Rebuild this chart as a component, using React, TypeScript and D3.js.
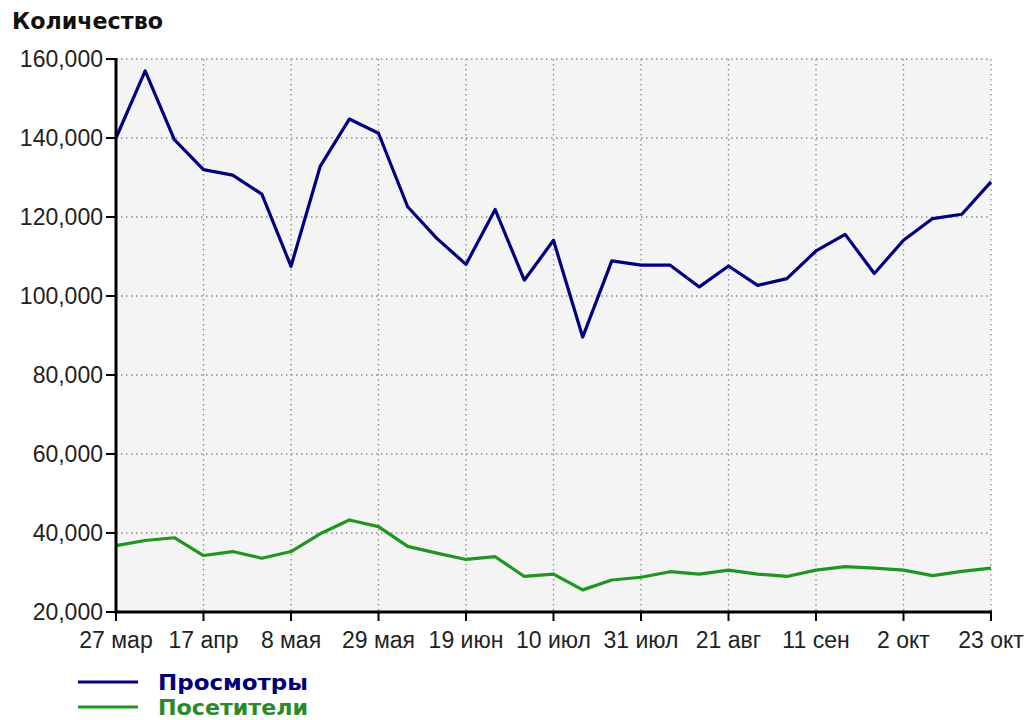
import React from "react";
import * as d3 from "d3";

const xTickLabels = ["27 мар", "17 апр", "8 мая", "29 мая", "19 июн", "10 июл", "31 июл", "21 авг", "11 сен", "2 окт", "23 окт"];
const yTicks = [20000, 40000, 60000, 80000, 100000, 120000, 140000, 160000];

const views = [
  140000, 157000, 139600, 132000, 130600, 125800, 107500, 132800, 144800, 141200,
  122600, 114600, 108000, 121900, 104000, 114100, 89600, 108900, 107800, 107800,
  102300, 107600, 102700, 104400, 111400, 115600, 105700, 114100, 119600, 120700, 128900,
];
const visitors = [
  36800, 38100, 38800, 34300, 35300, 33600, 35300, 39800, 43300, 41600,
  36600, 34900, 33300, 34000, 29000, 29600, 25600, 28100, 28800, 30200,
  29600, 30600, 29600, 29000, 30600, 31500, 31100, 30600, 29200, 30300, 31100,
];

const seriesNames = ["Просмотры", "Посетители"];
const seriesColors = ["#000080", "#1f961f"];

export default function App() {
  const W = 1024, H = 720;
  const left = 116, right = 991, top = 59, bottom = 612;
  const x = d3.scaleLinear().domain([0, views.length - 1]).range([left, right]);
  const y = d3.scaleLinear().domain([20000, 160000]).range([bottom, top]);
  const line = d3.line<number>().x((_, i) => x(i)).y((d) => y(d));
  const fmt = d3.format(",");
  const step = (views.length - 1) / (xTickLabels.length - 1);
  const font = "'Liberation Sans', Arial, sans-serif";
  const boldFont = "'DejaVu Sans', Verdana, sans-serif";

  return (
    <svg width={W} height={H} style={{ position: "absolute", left: 0, top: 0, background: "#fff" }} fontFamily={font}>
      <rect x={left} y={top} width={right - left} height={bottom - top} fill="#f4f4f4" />
      {yTicks.slice(1).map((t) => (
        <line key={"gy" + t} x1={left} x2={right} y1={y(t)} y2={y(t)} stroke="#8a8a8a" strokeWidth={1.3} strokeDasharray="1.5,3.5" />
      ))}
      {xTickLabels.map((l, i) => i > 0 && (
        <line key={"gx" + i} x1={x(i * step)} x2={x(i * step)} y1={top} y2={bottom} stroke="#8a8a8a" strokeWidth={1.3} strokeDasharray="1.5,3.5" />
      ))}
      <path d={line(visitors) || ""} fill="none" stroke={seriesColors[1]} strokeWidth={3.2} strokeLinejoin="round" />
      <path d={line(views) || ""} fill="none" stroke={seriesColors[0]} strokeWidth={3.2} strokeLinejoin="round" />
      {/* axes */}
      <line x1={left} x2={left} y1={top - 1} y2={bottom + 1.5} stroke="#000" strokeWidth={3} />
      <line x1={left - 1.5} x2={right + 1} y1={bottom} y2={bottom} stroke="#000" strokeWidth={3} />
      {yTicks.map((t) => (
        <g key={"yt" + t}>
          <line x1={left - 10} x2={left} y1={y(t)} y2={y(t)} stroke="#000" strokeWidth={2} />
          <text x={103} y={y(t) + 8} textAnchor="end" fontSize={23} fill="#222">{fmt(t)}</text>
        </g>
      ))}
      {xTickLabels.map((l, i) => (
        <g key={"xt" + i}>
          <line x1={x(i * step)} x2={x(i * step)} y1={bottom} y2={bottom + 9} stroke="#000" strokeWidth={2} />
          <text x={x(i * step)} y={648} textAnchor="middle" fontSize={23} fill="#222">{l}</text>
        </g>
      ))}
      <text x={12} y={29} fontFamily={boldFont} fontSize={23} fontWeight="bold" fill="#111" textLength={151} lengthAdjust="spacingAndGlyphs">Количество</text>
      {seriesNames.map((n, i) => (
        <g key={n}>
          <line x1={78} x2={138} y1={682 + i * 25} y2={682 + i * 25} stroke={seriesColors[i]} strokeWidth={3} />
          <text x={158} y={690 + i * 25} fontFamily={boldFont} fontSize={21} fontWeight="bold" fill={i === 0 ? "#00007a" : "#2a8a2a"} textLength={150} lengthAdjust="spacingAndGlyphs">{n}</text>
        </g>
      ))}
    </svg>
  );
}
